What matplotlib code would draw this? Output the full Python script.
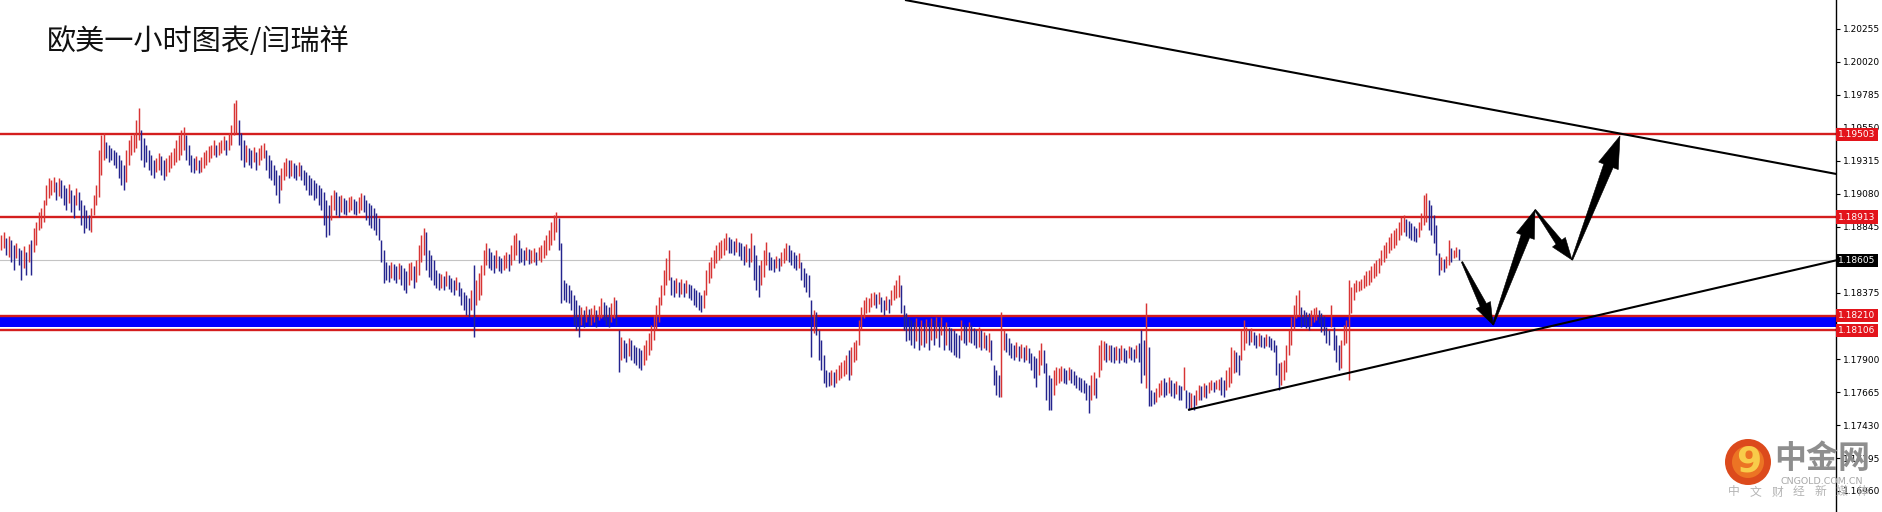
import numpy as np
import matplotlib
matplotlib.use("Agg")
import matplotlib.pyplot as plt
from matplotlib.patches import Polygon, Circle

# ---------------- data (prices in points of 0.00001 above BASE) ----------------
BASE = 1.17000
UNIT = 0.00001

highs_pts = [
    1786, 1808, 1765, 1779, 1751, 1715, 1730, 1694, 1679, 1708, 1665, 1722,
    1751, 1836, 1879, 1950, 1979, 2036, 2143, 2193, 2178, 2200, 2164, 2193,
    2178, 2143, 2122, 2150, 2107, 2071, 2122, 2093, 2036, 2000, 1964, 1929,
    1979, 2071, 2143, 2392, 2499, 2514, 2450, 2428, 2407, 2392, 2378, 2357,
    2321, 2285, 2392, 2464, 2499, 2514, 2606, 2692, 2535, 2478, 2428, 2392,
    2357, 2321, 2336, 2371, 2350, 2321, 2336, 2357, 2378, 2407, 2464, 2499,
    2535, 2556, 2499, 2428, 2357, 2336, 2350, 2321, 2343, 2378, 2392, 2421,
    2428, 2464, 2428, 2450, 2464, 2492, 2464, 2514, 2570, 2728, 2749, 2606,
    2514, 2464, 2428, 2407, 2392, 2414, 2378, 2407, 2428, 2443, 2392, 2357,
    2321, 2285, 2250, 2214, 2264, 2307, 2336, 2321, 2321, 2300, 2285, 2307,
    2285, 2250, 2236, 2214, 2193, 2178, 2157, 2143, 2122, 2093, 2036, 2000,
    2071, 2107, 2093, 2064, 2071, 2050, 2036, 2057, 2064, 2043, 2029, 2057,
    2086, 2071, 2036, 2014, 2000, 1979, 1943, 1908, 1751, 1679, 1594, 1572,
    1594, 1579, 1565, 1587, 1572, 1551, 1530, 1587, 1594, 1565, 1608, 1715,
    1786, 1836, 1808, 1679, 1644, 1608, 1537, 1515, 1508, 1494, 1530, 1501,
    1480, 1465, 1487, 1451, 1408, 1380, 1358, 1337, 1394, 1572, 1465, 1515,
    1572, 1679, 1729, 1694, 1665, 1644, 1679, 1637, 1622, 1644, 1665, 1651,
    1715, 1786, 1801, 1751, 1694, 1679, 1701, 1686, 1679, 1694, 1665, 1701,
    1715, 1751, 1786, 1822, 1879, 1929, 1950, 1908, 1729, 1465, 1444, 1430,
    1394, 1358, 1323, 1287, 1273, 1251, 1280, 1258, 1266, 1287, 1251, 1280,
    1337, 1309, 1287, 1273, 1302, 1344, 1323, 1109, 1059, 1037, 1016, 1052,
    1037, 1002, 988, 981, 966, 1002, 1037, 1087, 1144, 1216, 1287, 1344,
    1430, 1537, 1622, 1679, 1487, 1465, 1480, 1451, 1472, 1444, 1465, 1437,
    1430, 1408, 1394, 1380, 1358, 1394, 1537, 1594, 1630, 1679, 1715, 1736,
    1751, 1765, 1801, 1772, 1758, 1744, 1765, 1736, 1729, 1708, 1722, 1694,
    1801, 1715, 1644, 1572, 1608, 1679, 1736, 1665, 1630, 1615, 1637, 1622,
    1665, 1694, 1729, 1715, 1679, 1665, 1644, 1658, 1594, 1551, 1515, 1501,
    1323, 1251, 1237, 1109, 1037, 930, 823, 809, 823, 809, 830, 859,
    881, 895, 930, 966, 988, 1023, 1037, 1180, 1273, 1323, 1344, 1337,
    1372, 1380, 1365, 1380, 1344, 1323, 1351, 1330, 1394, 1430, 1465, 1501,
    1430, 1287, 1230, 1194, 1180, 1166, 1194, 1144, 1180, 1159, 1187, 1166,
    1194, 1180, 1202, 1166, 1202, 1144, 1166, 1130, 1123, 1109, 1087, 1073,
    1180, 1151, 1137, 1166, 1144, 1123, 1109, 1130, 1109, 1094, 1073, 1087,
    1037, 859, 823, 788, 1237, 1109, 1087, 1052, 1016, 1002, 1023, 995,
    1009, 988, 1002, 981, 945, 923, 909, 966, 1016, 966, 873, 788,
    766, 823, 845, 838, 852, 838, 823, 845, 830, 816, 788, 773,
    766, 752, 731, 716, 788, 809, 766, 1002, 1037, 1030, 1016, 1002,
    1002, 988, 995, 981, 1002, 981, 966, 995, 988, 973, 1002, 1016,
    1109, 1037, 1302, 988, 681, 666, 695, 731, 752, 766, 738, 773,
    752, 731, 745, 716, 709, 845, 681, 666, 659, 645, 681, 716,
    709, 731, 716, 738, 752, 738, 752, 759, 773, 752, 823, 845,
    988, 966, 952, 930, 1109, 1180, 1130, 1109, 1123, 1094, 1073, 1087,
    1073, 1059, 1080, 1066, 1052, 1037, 1002, 873, 881, 895, 1002, 1109,
    1202, 1287, 1358, 1394, 1273, 1251, 1237, 1230, 1251, 1266, 1273, 1251,
    1230, 1209, 1130, 1109, 1287, 1130, 1073, 1002, 1037, 1144, 1180, 1465,
    1415, 1444, 1465, 1458, 1472, 1501, 1530, 1537, 1565, 1587, 1608, 1622,
    1679, 1715, 1736, 1772, 1801, 1822, 1836, 1879, 1915, 1929, 1900, 1886,
    1872, 1850, 1836, 1879, 1943, 2071, 2086, 2036, 2000, 1929, 1857, 1658,
    1630, 1615, 1637, 1751, 1694, 1679, 1701, 1686,
]

lows_pts = [
    1679, 1694, 1644, 1630, 1594, 1537, 1622, 1572, 1465, 1551, 1501, 1594,
    1501, 1665, 1715, 1822, 1836, 1879, 2000, 2050, 2071, 2093, 2036, 2064,
    2050, 2000, 1964, 2014, 1950, 1908, 2000, 1964, 1857, 1801, 1836, 1822,
    1808, 1929, 2000, 2057, 2214, 2321, 2336, 2307, 2321, 2285, 2264, 2193,
    2143, 2107, 2164, 2285, 2357, 2378, 2407, 2464, 2321, 2271, 2307, 2250,
    2214, 2193, 2236, 2250, 2214, 2178, 2207, 2236, 2264, 2285, 2307, 2321,
    2357, 2392, 2321, 2285, 2236, 2229, 2250, 2229, 2236, 2264, 2285, 2307,
    2336, 2357, 2343, 2357, 2371, 2392, 2357, 2392, 2428, 2499, 2514, 2428,
    2321, 2271, 2307, 2285, 2264, 2307, 2250, 2285, 2321, 2336, 2250, 2193,
    2178, 2143, 2071, 2014, 2107, 2178, 2207, 2193, 2207, 2193, 2178, 2207,
    2178, 2143, 2107, 2071, 2071, 2036, 2050, 2000, 1964, 1857, 1772, 1786,
    1893, 1964, 1929, 1915, 1950, 1936, 1929, 1950, 1964, 1936, 1929, 1943,
    1964, 1950, 1893, 1857, 1836, 1822, 1786, 1751, 1594, 1444, 1465, 1451,
    1480, 1465, 1444, 1472, 1430, 1394, 1372, 1430, 1465, 1408, 1451, 1501,
    1594, 1644, 1537, 1487, 1465, 1430, 1408, 1394, 1408, 1394, 1423, 1401,
    1380, 1358, 1394, 1351, 1287, 1251, 1216, 1202, 1251, 1059, 1287, 1323,
    1358, 1501, 1572, 1551, 1537, 1515, 1551, 1530, 1515, 1537, 1551, 1530,
    1572, 1608, 1644, 1587, 1594, 1572, 1608, 1579, 1587, 1594, 1572, 1608,
    1594, 1622, 1644, 1679, 1715, 1751, 1808, 1679, 1302, 1323, 1309, 1302,
    1251, 1144, 1109, 1059, 1144, 1130, 1166, 1137, 1144, 1166, 1130, 1180,
    1194, 1180, 1144, 1130, 1166, 1194, 1144, 809, 895, 909, 881, 923,
    895, 873, 859, 838, 823, 859, 895, 930, 966, 1037, 1109, 1166,
    1287, 1358, 1430, 1465, 1358, 1344, 1372, 1344, 1365, 1344, 1372, 1337,
    1323, 1287, 1273, 1251, 1237, 1266, 1358, 1444, 1480, 1551, 1587, 1608,
    1622, 1644, 1679, 1658, 1658, 1644, 1665, 1637, 1608, 1572, 1594, 1558,
    1594, 1465, 1394, 1344, 1430, 1487, 1572, 1537, 1537, 1523, 1551, 1530,
    1565, 1587, 1608, 1594, 1572, 1551, 1537, 1551, 1465, 1415, 1380, 1344,
    916, 1087, 1073, 895, 823, 731, 702, 709, 716, 702, 731, 752,
    766, 780, 795, 752, 788, 881, 895, 1002, 1109, 1194, 1230, 1237,
    1273, 1287, 1266, 1294, 1237, 1216, 1251, 1230, 1287, 1323, 1337, 1344,
    1230, 1109, 1030, 1037, 1002, 981, 1030, 966, 1002, 988, 1016, 966,
    1037, 1002, 1052, 988, 1073, 966, 1002, 966, 952, 930, 916, 909,
    1037, 1016, 1002, 1023, 1016, 1002, 981, 988, 966, 981, 966, 952,
    895, 716, 645, 630, 630, 966, 952, 930, 909, 895, 916, 888,
    909, 881, 895, 873, 823, 766, 702, 788, 859, 802, 609, 538,
    538, 645, 716, 731, 745, 731, 723, 752, 731, 716, 695, 681,
    666, 659, 609, 516, 609, 645, 623, 773, 823, 895, 881, 895,
    881, 873, 895, 873, 895, 881, 873, 909, 895, 881, 909, 881,
    731, 788, 695, 567, 567, 581, 595, 630, 645, 630, 645, 659,
    638, 623, 652, 609, 609, 681, 552, 538, 552, 538, 574, 609,
    609, 630, 623, 659, 681, 666, 688, 681, 645, 630, 681, 702,
    731, 802, 809, 788, 895, 966, 1016, 1002, 1023, 1002, 981, 995,
    988, 981, 995, 988, 966, 952, 788, 681, 716, 752, 809, 930,
    1002, 1109, 1194, 1216, 1130, 1144, 1123, 1109, 1137, 1166, 1180, 1159,
    1094, 1073, 1016, 1002, 1130, 966, 881, 823, 838, 1002, 1016, 752,
    1230, 1323, 1380, 1387, 1394, 1408, 1423, 1430, 1451, 1480, 1494, 1515,
    1572, 1594, 1622, 1658, 1679, 1694, 1715, 1751, 1786, 1808, 1779, 1765,
    1751, 1744, 1736, 1772, 1822, 1857, 1879, 1822, 1786, 1729, 1644, 1501,
    1537, 1523, 1551, 1572, 1594, 1622, 1630, 1608,
]

resistance_levels = [1.19503, 1.18913]
support_zone = [1.18210, 1.18106]
current_price = 1.18605

# right-axis grid of the platform; labels hidden behind price boxes are left blank
axis_ticks = [1.20255, 1.20020, 1.19785, 1.19550, 1.19315, 1.19080, 1.18845,
              1.18610, 1.18375, 1.18140, 1.17900, 1.17665, 1.17430, 1.17195, 1.16960]
axis_tick_labels = ["1.20255", "1.20020", "1.19785", "1.19550", "1.19315", "1.19080",
                    "1.18845", "", "1.18375", "", "1.17900", "1.17665",
                    "1.17430", "1.17195", "1.16960"]

# trend lines: (bar index, price)
upper_trend = [(361.5, 1.20462), (734.0, 1.19221)]
lower_trend = [(474.7, 1.17538), (734.0, 1.18605)]

# forecast path drawn with arrows: (bar index, price)
forecast_x = [584.3, 596.7, 613.5, 628.3, 647.5]
forecast_p = [1.18594, 1.18145, 1.18965, 1.18608, 1.19492]

title = "欧美一小时图表/闫瑞祥"

# ---------------- figure ----------------
W, H, DPI = 1882, 512, 100
fig = plt.figure(figsize=(W / DPI, H / DPI), dpi=DPI, facecolor="white")
ax = fig.add_axes([0, 0, 1836 / W, 1])
ax.set_facecolor("white")

highs = BASE + np.array(highs_pts) * UNIT
lows = BASE + np.array(lows_pts) * UNIT
n = len(highs)
xs = np.arange(n)
mids = (highs + lows) / 2
up = np.concatenate([[True], mids[1:] >= mids[:-1]])
colors = np.where(up, "#D83434", "#24248E")

ax.set_xlim(-0.5, 733.9)
ax.set_ylim(1.168099, 1.204618)

# support zone
ax.axhspan(support_zone[1] + 0.00022, support_zone[0] - 0.00008, color="#0000FF", zorder=1, lw=0)
for lv in support_zone:
    ax.axhline(lv, color="#D41E1E", lw=1.7, zorder=1.5)
for lv in resistance_levels:
    ax.axhline(lv, color="#D41E1E", lw=1.7, zorder=1.5)
ax.axhline(current_price, color="#C4C4C4", lw=0.8, zorder=1.2)

ax.vlines(xs, lows, highs, colors=colors, lw=1.05, zorder=3)

for tl in (upper_trend, lower_trend):
    ax.plot([tl[0][0], tl[1][0]], [tl[0][1], tl[1][1]], color="black", lw=1.5,
            zorder=4, solid_capstyle="butt")

# axis styling
for s in ["left", "top", "bottom"]:
    ax.spines[s].set_visible(False)
ax.spines["right"].set_color("black")
ax.spines["right"].set_linewidth(1.0)
ax.set_xticks([])
ax.yaxis.tick_right()
ax.set_yticks(axis_ticks)
ax.set_yticklabels(axis_tick_labels)
ax.tick_params(axis="y", direction="out", length=3, width=0.8, pad=2,
               labelsize=6.5, colors="black")

# price label boxes
ytr = ax.get_yaxis_transform()
box_labels = [(resistance_levels[0], "#E3141B"), (resistance_levels[1], "#E3141B"),
              (support_zone[0], "#E3141B"), (support_zone[1], "#E3141B"),
              (current_price, "#000000")]
for lv, c in box_labels:
    ax.text(1.0012, lv, f"{lv:.5f}", transform=ytr, ha="left", va="center",
            fontsize=6.5, color="white", clip_on=False, zorder=20,
            bbox=dict(boxstyle="square,pad=0.25", fc=c, ec="none"))

# title
fig.text(47 / W, 1 - 42 / H, title, fontsize=21, family=["Noto Sans CJK SC", "DejaVu Sans"],
         ha="left", va="center", color="#111111")

# arrows (tapered black arrows following the forecast path)
fig.canvas.draw()
arrow_style = [(22, 8, 3.5), (28, 9.5, 4.5), (22, 8, 3.5), (32, 10.5, 5.0)]

def draw_arrow(p0, p1, head_len, head_hw, shaft_hw):
    a = ax.transData.transform(p0)
    b = ax.transData.transform(p1)
    d = b - a
    L = np.hypot(*d)
    u = d / L
    nrm = np.array([-u[1], u[0]])
    base = b - u * head_len
    pts = np.array([a + nrm * 0.7, base + nrm * shaft_hw, base + nrm * head_hw, b,
                    base - nrm * head_hw, base - nrm * shaft_hw, a - nrm * 0.7])
    fig.add_artist(Polygon(pts / [W, H], closed=True, transform=fig.transFigure,
                           fc="black", ec="black", lw=0.4, zorder=30))

for k in range(len(forecast_x) - 1):
    hl, hw, sw = arrow_style[k]
    draw_arrow((forecast_x[k], forecast_p[k]), (forecast_x[k + 1], forecast_p[k + 1]), hl, hw, sw)

# watermark
fig.add_artist(Circle((1748, H - 462), 23, transform=None, fc="#DC4A1C", ec="none", zorder=40))
fig.add_artist(Circle((1748, H - 462), 16, transform=None, fc="#EC7424", ec="none", zorder=40))
fig.text(1749 / W, 1 - 461 / H, "9", fontsize=26, fontweight="bold", color="#F8CC4A",
         ha="center", va="center", zorder=41)
fig.text(1822 / W, 1 - 459 / H, "中金网", fontsize=23, fontweight="bold", color="#8E8E8E",
         family=["Noto Sans CJK SC", "DejaVu Sans"], ha="center", va="center", zorder=41)
fig.text(1822 / W, 1 - 481 / H, "CNGOLD.COM.CN", fontsize=6.8, color="#A8A8A8",
         ha="center", va="center", zorder=41)
sub_chars = list("中文财经新媒体")
for i, ch in enumerate(sub_chars):
    fig.text((1734 + i * 21.5) / W, 1 - 492 / H, ch, fontsize=8.5, color="#B4B4B4",
             family=["Noto Sans CJK SC", "DejaVu Sans"], ha="center", va="center", zorder=41)

fig.savefig("out.png", dpi=DPI, facecolor="white")
